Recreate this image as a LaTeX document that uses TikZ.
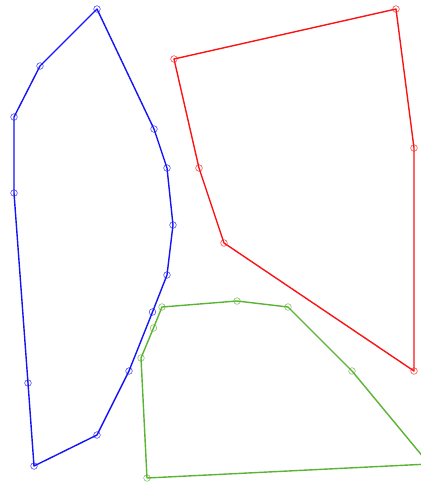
\documentclass[tikz,border=0pt]{standalone}
\definecolor{pblue}{RGB}{20,20,245}
\definecolor{pred}{RGB}{250,20,20}
\definecolor{pgreen}{RGB}{90,180,50}
\tikzset{
  edge/.style={line width=1.4pt, line join=round},
  mk/.style={line width=0.6pt, opacity=0.75},
}
\begin{document}
\begin{tikzpicture}[x=1pt,y=-1pt]
\useasboundingbox (0,0) rectangle (421,483);
\clip (0,0) rectangle (421,483);
% blue
\coordinate (b1) at (97,9);
\coordinate (b2) at (40,66);
\coordinate (b3) at (14,117);
\coordinate (b4) at (14,193);
\coordinate (b5) at (28,383);
\coordinate (b6) at (34,466);
\coordinate (b7) at (97,435);
\coordinate (b8) at (129,371);
\coordinate (b9) at (152.5,312);
\coordinate (b10) at (167,275);
\coordinate (b11) at (173,225);
\coordinate (b12) at (167,168);
\coordinate (b13) at (154,129);
\draw[edge,pblue] (b1)--(b2)--(b3)--(b4)--(b5)--(b6)--(b7)--(b8)--(b9)--(b10)--(b11)--(b12)--(b13)--cycle;
\foreach \p in {b1,b2,b3,b4,b5,b6,b7,b8,b9,b10,b11,b12,b13}
  \draw[mk,pblue] (\p) circle (3.3);
% red
\coordinate (r1) at (174,59);
\coordinate (r2) at (396,9);
\coordinate (r3) at (414,148);
\coordinate (r4) at (414,371);
\coordinate (r5) at (224,243);
\coordinate (r6) at (199,168);
\draw[edge,pred] (r1)--(r2)--(r3)--(r4)--(r5)--(r6)--cycle;
\foreach \p in {r1,r2,r3,r4,r5,r6}
  \draw[mk,pred] (\p) circle (3.3);
% green
\coordinate (g1) at (162,307);
\coordinate (g2) at (237,301);
\coordinate (g3) at (288,307);
\coordinate (g4) at (352,371);
\coordinate (g5) at (429,464);
\coordinate (g6) at (147,478);
\coordinate (g7) at (141,358);
\coordinate (g8) at (153.5,328);
\draw[edge,pgreen] (g1)--(g2)--(g3)--(g4)--(g5)--(g6)--(g7)--(g8)--cycle;
\foreach \p in {g1,g2,g3,g4,g5,g6,g7,g8}
  \draw[mk,pgreen] (\p) circle (3.3);
\end{tikzpicture}
\end{document}
